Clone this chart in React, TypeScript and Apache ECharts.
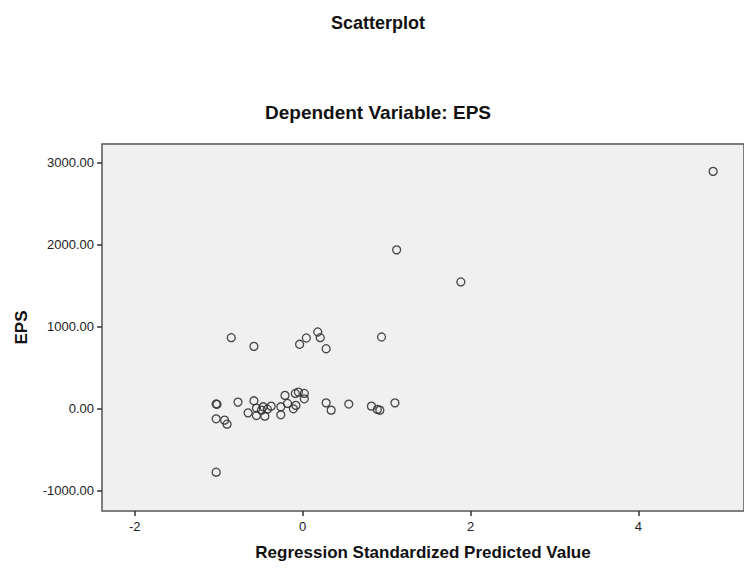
import React, { useEffect, useRef } from "react";
import * as echarts from "echarts";

const mainTitle = "Scatterplot";
const subTitle = "Dependent Variable: EPS";
const xAxisTitle = "Regression Standardized Predicted Value";
const yAxisTitle = "EPS";

const xTicks = [-2, 0, 2, 4];
const yTicks = [-1000, 0, 1000, 2000, 3000];

// Regression standardized predicted value
const predicted = [
  -1.03, -1.02, -0.77, -0.58, -1.03, -0.93, -0.9, -0.65, -0.55, -0.55,
  -0.45, -0.47, -0.42, -0.49, -0.375, -0.26, -0.26, -0.21, -0.18, -0.11,
  -0.08, -0.087, -0.05, 0.02, 0.02, 0.28, 0.34, 0.55, 0.82, 0.89,
  0.92, 1.1, -1.03, -0.85, -0.58, -0.036, 0.044, 0.18, 0.21, 0.28,
  0.94, 1.12, 1.885, 4.89,
];
// EPS
const eps = [
  55, 50, 77, 93, -127, -143, -192, -54, 4, -86,
  -94, 20, -9, -21, 28, 20, -78, 159, 61, -5,
  37, 183, 199, 183, 117, 68, -21, 53, 28, -12,
  -21, 68, -778, 863, 757, 782, 859, 932, 863, 728,
  871, 1934, 1543, 2891,
];

export default function App() {
  const ref = useRef<HTMLDivElement>(null);
  useEffect(() => {
    if (!ref.current) return;
    const chart = echarts.init(ref.current, null, { renderer: "svg" });
    const font = "Arial, 'Liberation Sans', sans-serif";
    chart.setOption({
      animation: false,
      backgroundColor: "#ffffff",
      textStyle: { fontFamily: font },
      graphic: [
        {
          type: "text",
          x: 378,
          y: 23,
          style: {
            text: mainTitle,
            font: `bold 18px ${font}`,
            fill: "#111",
            textAlign: "center",
            textVerticalAlign: "middle",
          },
        },
        {
          type: "text",
          x: 378,
          y: 112,
          style: {
            text: subTitle,
            font: `bold 19px ${font}`,
            fill: "#111",
            textAlign: "center",
            textVerticalAlign: "middle",
          },
        },
      ],
      grid: {
        left: 102,
        top: 144,
        bottom: 57,
        right: -2,
        show: true,
        backgroundColor: "#f0f0f0",
        borderColor: "#555",
        borderWidth: 1.5,
        containLabel: false,
      },
      xAxis: {
        type: "value",
        min: -2.39,
        max: 5.258,
        name: xAxisTitle,
        nameLocation: "middle",
        nameGap: 33,
        nameTextStyle: { fontSize: 17, fontWeight: "bold", color: "#111", fontFamily: font },
        splitLine: { show: false },
        axisLine: { show: false, onZero: false },
        axisTick: {
          show: true,
          customValues: xTicks,
          length: 5,
          lineStyle: { color: "#333", width: 1.5 },
        },
        axisLabel: {
          customValues: xTicks,
          color: "#222",
          fontSize: 13,
          margin: 9,
          formatter: (v: number) => String(v),
        },
      },
      yAxis: {
        type: "value",
        min: -1251,
        max: 3225,
        name: yAxisTitle,
        nameLocation: "middle",
        nameGap: 72,
        nameRotate: 90,
        nameTextStyle: { fontSize: 17, fontWeight: "bold", color: "#111", fontFamily: font },
        splitLine: { show: false },
        axisLine: { show: false, onZero: false },
        axisTick: {
          show: true,
          customValues: yTicks,
          length: 5,
          lineStyle: { color: "#333", width: 1.5 },
        },
        axisLabel: {
          customValues: yTicks,
          color: "#222",
          fontSize: 13,
          margin: 8,
          formatter: (v: number) => v.toFixed(2),
        },
      },
      series: [
        {
          type: "scatter",
          data: predicted.map((x, i) => [x, eps[i]]),
          symbol: "circle",
          symbolSize: 8,
          itemStyle: {
            color: "rgba(0,0,0,0)",
            borderColor: "#333",
            borderWidth: 1.3,
            opacity: 0.9,
          },
        },
      ],
    });
    return () => chart.dispose();
  }, []);
  return (
    <div
      ref={ref}
      style={{ position: "fixed", left: 0, top: 0, width: 744, height: 568 }}
    />
  );
}
